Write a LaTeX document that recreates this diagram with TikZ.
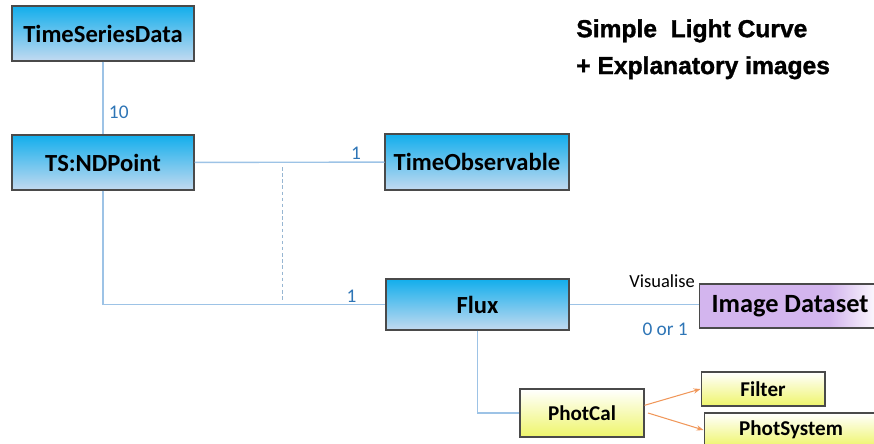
\documentclass[tikz,border=0pt]{standalone}
\usepackage{fontspec}
\setmainfont{Carlito}
\newfontfamily\titlefont[BoldFeatures={FakeBold=1.3}]{Liberation Sans}
\usepackage{tikz}
\usetikzlibrary{arrows.meta}
\usepackage{xcolor}

\definecolor{boxtop}{HTML}{12AEEC}
\definecolor{boxbottom}{HTML}{C3DAF0}
\definecolor{linkblue}{HTML}{9DC3E6}
\definecolor{numblue}{HTML}{2E75B6}
\definecolor{imgpurple}{HTML}{D3B5EE}
\definecolor{calyellow}{HTML}{EEF56A}
\definecolor{arrorange}{HTML}{F0975A}
\definecolor{edgegray}{HTML}{4A4A4A}

\pgfdeclarehorizontalshading{imgshade}{100bp}{color(0bp)=(imgpurple); color(61bp)=(imgpurple); color(75bp)=(white); color(100bp)=(white)}

\tikzset{
  classbox/.style={draw=edgegray, semithick, top color=boxtop, bottom color=boxbottom, font=\bfseries\fontsize{14}{16}\selectfont, inner sep=0pt},
  calbox/.style={draw=edgegray, semithick, top color=white, bottom color=calyellow, font=\bfseries\fontsize{12}{14}\selectfont, inner sep=0pt},
  link/.style={draw=linkblue, line width=0.8pt},
  mult/.style={text=numblue, font=\fontsize{11}{13}\selectfont, inner sep=1pt},
  calarrow/.style={draw=arrorange, line width=0.6pt, -{Stealth[length=4pt, width=3pt]}}
}

\begin{document}
\begin{tikzpicture}[x=0.02cm, y=-0.02cm]
  \useasboundingbox (0,0) rectangle (874,443);

  % Nodes
  \node[classbox, minimum width=3.64cm, minimum height=1.1cm] (tsd) at (103, 33.5) {TimeSeriesData};
  \node[classbox, minimum width=3.64cm, minimum height=1.1cm] (ndp) at (103, 162.5) {TS:NDPoint};
  \node[classbox, minimum width=3.68cm, minimum height=1.12cm] (tobs) at (477, 162) {TimeObservable};
  \node[classbox, minimum width=3.66cm, minimum height=1.02cm] (flux) at (477.5, 304.5) {Flux};
  \node[draw=edgegray, semithick, shading=imgshade, minimum width=3.62cm, minimum height=0.88cm, inner sep=0pt,
        font=\bfseries\fontsize{15}{17}\selectfont] (img) at (790, 306) {Image Dataset};
  \node[calbox, minimum width=2.48cm, minimum height=0.96cm] (phot) at (582, 413) {PhotCal};
  \node[calbox, minimum width=2.48cm, minimum height=0.68cm] (filt) at (763, 389) {Filter};
  \node[calbox, minimum width=3.48cm, minimum height=0.68cm] (phsys) at (791, 430) {PhotSystem};

  \node[anchor=north west, align=left, inner sep=0pt, font=\titlefont\bfseries\fontsize{14}{21}\selectfont] (title) at (576, 19)
    {Simple\ \ Light Curve\\+ Explanatory images};

  % Edges
  \draw[link] (tsd) -- (ndp) node[mult, pos=0.7, right=2pt] {10};
  \draw[link] (ndp) -- (tobs) node[mult, pos=0.85, above] {1};
  \draw[link] (ndp) |- (flux) node[mult, pos=0.94, above] {1};
  \draw[link] (flux) -- (img.west |- flux.east)
    node[pos=1, anchor=south east, inner sep=1pt, xshift=-1pt, yshift=8pt, font=\fontsize{10.5}{12}\selectfont] {Visualise}
    node[mult, pos=1, anchor=north east, xshift=-5pt, yshift=-9pt] {0 or 1};
  \draw[link] (flux) |- (phot);
  \coordinate (dtop) at (282, 167);
  \coordinate (dbot) at (282, 300);
  \draw[linkblue!80!gray, dashed, dash pattern=on 2pt off 1.5pt, line width=0.5pt] (dtop) -- (dbot);

  \draw[calarrow] (phot.7) -- (filt.west);
  \draw[calarrow] ([xshift=2pt]phot.east) -- (phsys.west);
\end{tikzpicture}
\end{document}
